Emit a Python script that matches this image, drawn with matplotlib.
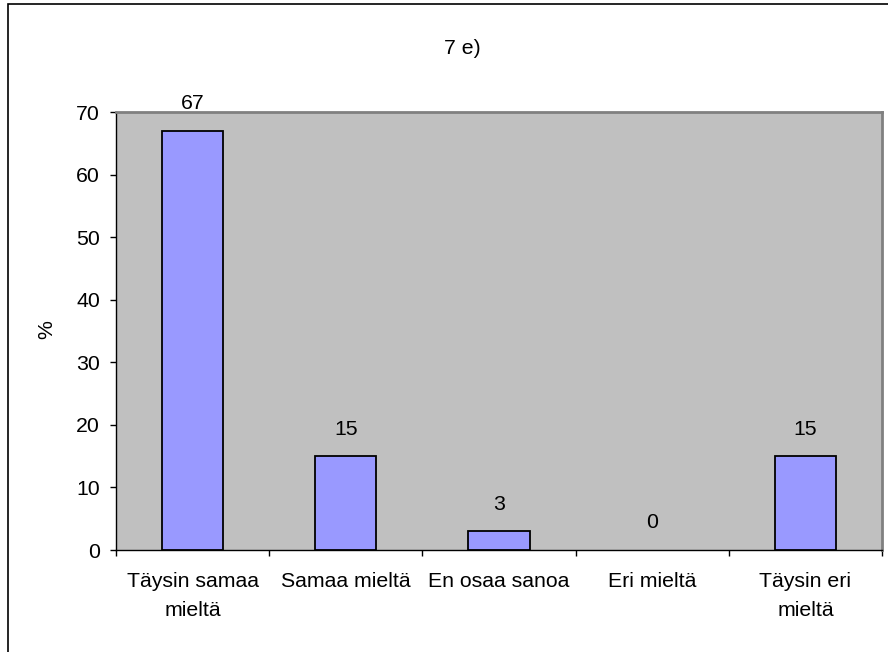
import matplotlib.pyplot as plt
from matplotlib.patches import Rectangle
import numpy as np

plt.rcParams['font.family'] = ['Liberation Sans', 'DejaVu Sans']

# Vastausjakauma kysymykseen 7 e)
categories = ['Täysin samaa\nmieltä', 'Samaa mieltä', 'En osaa sanoa', 'Eri mieltä', 'Täysin eri\nmieltä']
percentages = [67, 15, 3, 0, 15]
title = '7 e)'

fig = plt.figure(figsize=(8.88, 6.52), dpi=100)
fig.patch.set_facecolor('white')

# Kaavioalueen reunaviiva (jatkuu kuvan oikean ja alareunan yli)
fig.patches.append(Rectangle((8 / 888, -0.2), 2, 1.2 - 4 / 652, transform=fig.transFigure,
                             fill=False, edgecolor='black', linewidth=1.2, clip_on=False))

ax = fig.add_axes([116 / 888, 1 - 550 / 652, 766 / 888, 438 / 652])
ax.set_facecolor('#C0C0C0')

x = np.arange(len(categories))
bars = ax.bar(x, percentages, width=0.4, color='#9999FF', edgecolor='black', linewidth=1.3, zorder=3)
# nollapalkkia ei piirretä näkyviin
for b, val in zip(bars, percentages):
    if val == 0:
        b.set_linewidth(0)

fs = 15.3
for xi, val in zip(x, percentages):
    ax.annotate(str(val), (xi, val), xytext=(0, 19.5), textcoords='offset points',
                ha='center', va='center', fontsize=fs)

ax.set_xlim(-0.5, len(categories) - 0.5)
ax.set_ylim(0, 70)
ax.set_yticks(range(0, 71, 10))
ax.tick_params(axis='y', labelsize=fs, length=4.5, width=1, pad=7, direction='out')

ax.set_xticks(x)
ax.set_xticklabels(categories, fontsize=fs, linespacing=1.7)
ax.tick_params(axis='x', which='major', length=0, pad=15.5)
ax.set_xticks(np.arange(-0.5, len(categories)), minor=True)
ax.tick_params(axis='x', which='minor', length=4.5, width=1, direction='out')

ax.spines['left'].set_color('black')
ax.spines['bottom'].set_color('black')
ax.spines['left'].set_linewidth(1)
ax.spines['bottom'].set_linewidth(1)
ax.spines['top'].set_color('#808080')
ax.spines['right'].set_color('#808080')
ax.spines['top'].set_linewidth(2)
ax.spines['right'].set_linewidth(2)

fig.text(462 / 888, 1 - 49 / 652, title, ha='center', va='center', fontsize=fs)
fig.text(47 / 888, 1 - 330 / 652, '%', ha='center', va='center', rotation=90, fontsize=fs)

fig.savefig('out.png', dpi=100)
